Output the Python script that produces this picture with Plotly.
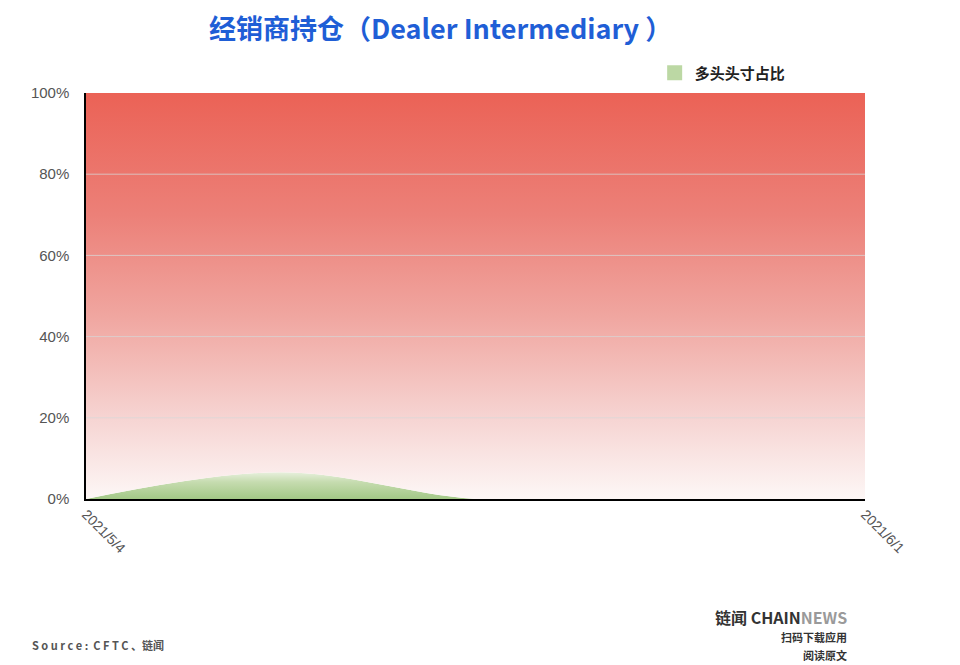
import plotly.graph_objects as go

# ---- data ----
dates = ["2021-05-04", "2021-05-11", "2021-05-18", "2021-05-25", "2021-06-01"]
long_pct = [0, 6.6, 0, 0, 0]          # 多头头寸占比
short_pct = [100 - v for v in long_pct]  # remaining share (top of stack)
tick_vals = ["2021-05-04", "2021-06-01"]
tick_text = ["2021/5/4", "2021/6/1"]
y_ticks = [0, 20, 40, 60, 80, 100]
y_ticktext = ["0%", "20%", "40%", "60%", "80%", "100%"]

stack_top = [l + s for l, s in zip(long_pct, short_pct)]

fig = go.Figure()

fig.add_trace(go.Scatter(
    x=dates, y=long_pct, name="多头头寸占比",
    mode="lines", line=dict(width=0, shape="spline"),
    fill="tozeroy",
    fillgradient=dict(type="vertical",
                      colorscale=[[0, "#a3c886"], [0.6, "#c6dcb0"], [1, "#edf3e4"]],
                      start=0, stop=7),
    fillcolor="#a9cc8e",
    showlegend=False,
))
fig.add_trace(go.Scatter(
    x=dates, y=stack_top, name="空头头寸占比",
    mode="lines", line=dict(width=0, shape="spline"),
    fill="tonexty",
    fillgradient=dict(type="vertical",
                      colorscale=[[0, "#fdf7f6"], [0.2, "#f6d4d2"], [0.45, "#f0a6a0"],
                                  [0.7, "#ec8078"], [1, "#eb6256"]],
                      start=0, stop=100),
    fillcolor="#ec6458",
    showlegend=False,
))
# legend-only entry with a square swatch
fig.add_trace(go.Scatter(
    x=[None], y=[None], name="多头头寸占比", mode="markers",
    marker=dict(symbol="square", size=15, color="#bcd8a4"),
    showlegend=True,
))

# horizontal grid lines drawn over the fill
shapes = []
for v in y_ticks[1:-1]:
    shapes.append(dict(type="line", xref="paper", x0=0, x1=1, yref="y", y0=v, y1=v,
                       line=dict(color="rgba(215,215,215,0.75)", width=1), layer="above"))

annotations = []
# faint watermarks
wm = [("链闻 CHAINNEWS", 0.14, 1.12, 26), ("链闻 CHAINNEWS", 0.52, 1.03, 28),
      ("链闻 CHAINNEWS", 0.98, 0.98, 26), ("链闻 CHAINNEWS", -0.02, 0.58, 26),
      ("链闻 CHAINNEWS", 1.02, 0.25, 26), ("链闻 CHAINNEWS", 0.08, -0.1, 28),
      ("链闻 CHAINNEWS", 0.45, -0.22, 28), ("链闻 CHAINNEWS", 0.85, -0.3, 26)]
for t, x, y, s in wm:
    annotations.append(dict(text="<b>" + t + "</b>", xref="paper", yref="paper",
                            x=x, y=y, showarrow=False, textangle=-20,
                            font=dict(size=s, color="rgba(0,0,0,0.025)",
                                      family="Noto Sans CJK SC")))

annotations.append(dict(text="<b>S o u r c e :  C F T C 、链闻</b>", xref="paper", yref="paper",
                        x=-0.072, y=-0.36, xanchor="left", yanchor="middle", showarrow=False,
                        font=dict(size=11, color="#555555", family="Noto Sans CJK SC")))
annotations.append(dict(text="<b>链闻 CHAIN<span style='color:#9a9a9a'>NEWS</span></b>",
                        xref="paper", yref="paper", x=0.979, y=-0.29, xanchor="right",
                        yanchor="middle", showarrow=False,
                        font=dict(size=16, color="#333333", family="Noto Sans CJK SC")))
annotations.append(dict(text="<b>扫码下载应用</b>", xref="paper", yref="paper",
                        x=0.979, y=-0.34, xanchor="right", yanchor="middle", showarrow=False,
                        font=dict(size=11, color="#333333", family="Noto Sans CJK SC")))
annotations.append(dict(text="<b>阅读原文</b>", xref="paper", yref="paper",
                        x=0.979, y=-0.385, xanchor="right", yanchor="middle", showarrow=False,
                        font=dict(size=11, color="#333333", family="Noto Sans CJK SC")))

fig.update_layout(
    width=960, height=665,
    margin=dict(l=86, r=95, t=93, b=166),
    paper_bgcolor="white", plot_bgcolor="white",
    title=dict(text="<b>经销商持仓（Dealer Intermediary ）</b>",
               x=0.459, xanchor="center", y=0.955, yanchor="middle",
               font=dict(size=27, color="#1f5ed6", family="Noto Sans CJK SC")),
    legend=dict(x=0.73, y=1.09, xanchor="left", yanchor="top",
                font=dict(size=15, color="#222222", family="Noto Sans CJK SC", weight="bold"),
                bgcolor="rgba(0,0,0,0)"),
    xaxis=dict(type="date", range=[dates[0], dates[-1]],
               tickvals=tick_vals, ticktext=tick_text, tickangle=45,
               showgrid=False, showline=True, linecolor="#000000", linewidth=1.5,
               ticks="", zeroline=False,
               tickfont=dict(size=14, color="#555555", family="Liberation Sans")),
    yaxis=dict(range=[0, 100], tickvals=y_ticks, ticktext=y_ticktext,
               showgrid=False, showline=True, linecolor="#000000", linewidth=1.5,
               ticks="", zeroline=False, ticklabelstandoff=12,
               tickfont=dict(size=15, color="#555555", family="Liberation Sans")),
    shapes=shapes,
    annotations=annotations,
)

fig.write_html("out.html", config={"displayModeBar": False},
               post_script="document.body.style.margin='0px';")
